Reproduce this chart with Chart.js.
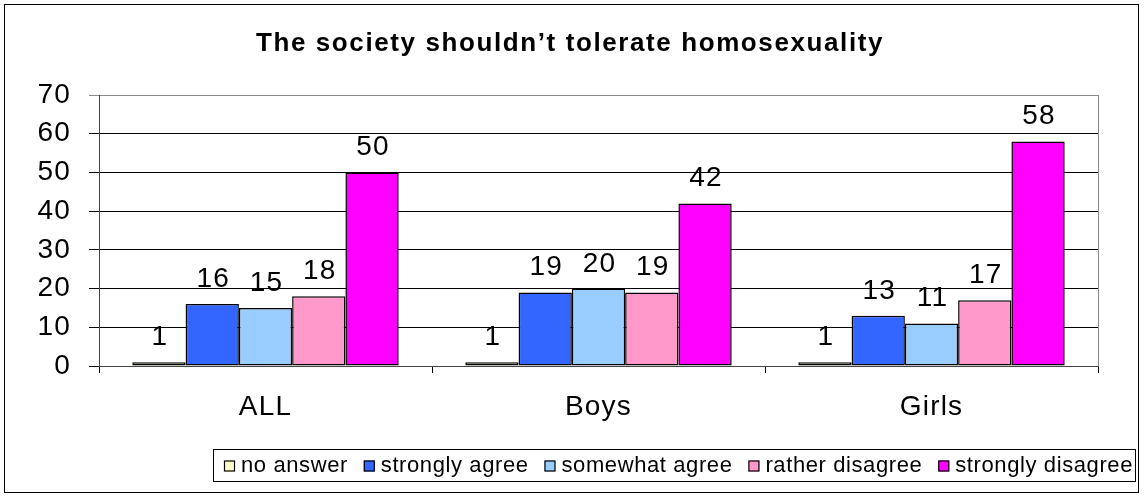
<!DOCTYPE html>
<html>
<head>
<meta charset="utf-8">
<script src="https://cdn.jsdelivr.net/npm/chart.js@4/dist/chart.umd.min.js"></script>
<style>
  html, body { margin: 0; padding: 0; background: #fff; }
</style>
</head>
<body>
<canvas id="c" width="1144" height="499"></canvas>
<script>
const groups = ['ALL', 'Boys', 'Girls'];
const noAnswer = [1, 1, 1];
const stronglyAgree = [16, 19, 13];
const somewhatAgree = [15, 20, 11];
const ratherDisagree = [18, 19, 17];
const stronglyDisagree = [50, 42, 58];
const yTicks = [0, 10, 20, 30, 40, 50, 60, 70];
const titleText = 'The society shouldn\u2019t tolerate homosexuality';

const FONT = 'Arial, "Liberation Sans", sans-serif';

function mkSet(label, data, color) {
  return {
    label: label,
    data: data,
    backgroundColor: color,
    borderColor: '#000',
    borderWidth: 1.5,
    borderSkipped: false,
    categoryPercentage: 0.8,
    barPercentage: 1.0
  };
}

// espacement des lettres (le rendu d'origine est un peu plus large)
const spacing = {
  id: 'spacing',
  beforeUpdate(chart) { chart.ctx.letterSpacing = '1.2px'; },
  beforeDraw(chart) { chart.ctx.letterSpacing = '1.2px'; }
};

// valeurs au-dessus des barres
const valueLabels = {
  id: 'valueLabels',
  afterDatasetsDraw(chart) {
    const ctx = chart.ctx;
    ctx.save();
    ctx.font = '28px ' + FONT;
    ctx.fillStyle = '#000';
    ctx.textAlign = 'center';
    ctx.textBaseline = 'alphabetic';
    chart.data.datasets.forEach((ds, i) => {
      chart.getDatasetMeta(i).data.forEach((bar, j) => {
        ctx.fillText(ds.data[j], bar.x + 1, bar.y - 17);
      });
    });
    ctx.restore();
  }
};

// titre, cadre extérieur, bord du graphique et légende encadrée
const decor = {
  id: 'decor',
  afterDraw(chart) {
    const ctx = chart.ctx;
    const a = chart.chartArea;
    ctx.save();

    // cadre extérieur
    ctx.strokeStyle = '#000';
    ctx.lineWidth = 1;
    ctx.strokeRect(4.5, 4.5, 1134, 488);

    // bord droit du graphique
    ctx.strokeStyle = '#888';
    ctx.beginPath();
    ctx.moveTo(Math.round(a.right) + 0.5, a.top);
    ctx.lineTo(Math.round(a.right) + 0.5, a.bottom);
    ctx.stroke();

    // titre
    ctx.letterSpacing = '1.6px';
    ctx.font = 'bold 26px ' + FONT;
    ctx.fillStyle = '#000';
    ctx.textAlign = 'left';
    ctx.textBaseline = 'middle';
    const tw = ctx.measureText(titleText).width;
    ctx.fillText(titleText, 570 - tw / 2, 44);

    // légende
    const boxL = 213, boxR = 1135, boxT = 449, boxB = 481;
    ctx.strokeStyle = '#000';
    ctx.strokeRect(boxL + 0.5, boxT + 0.5, boxR - boxL, boxB - boxT);
    ctx.letterSpacing = '0.6px';
    ctx.font = '22px ' + FONT;
    const sq = 11, gapSq = 6;
    const items = chart.data.datasets.map(ds => ({
      label: ds.label, color: ds.backgroundColor, w: ctx.measureText(ds.label).width
    }));
    const startX = boxL + 11, endX = boxR - 2;
    let used = 0;
    items.forEach(it => { used += sq + gapSq + it.w; });
    const gapItem = (endX - startX - used) / (items.length - 1);
    let x = startX;
    const cy = (boxT + boxB) / 2 + 1;
    items.forEach(it => {
      ctx.fillStyle = it.color;
      ctx.fillRect(x, cy - sq / 2, sq, sq);
      ctx.strokeStyle = '#000';
      ctx.lineWidth = 1.2;
      ctx.strokeRect(x + 0.5, cy - sq / 2 + 0.5, sq - 1, sq - 1);
      ctx.fillStyle = '#000';
      ctx.fillText(it.label, x + sq + gapSq, cy);
      x += sq + gapSq + it.w + gapItem;
    });
    ctx.restore();
  }
};

new Chart(document.getElementById('c'), {
  type: 'bar',
  data: {
    labels: groups,
    datasets: [
      mkSet('no answer', noAnswer, '#FFFFCC'),
      mkSet('strongly agree', stronglyAgree, '#3366FF'),
      mkSet('somewhat agree', somewhatAgree, '#99CCFF'),
      mkSet('rather disagree', ratherDisagree, '#FF99CC'),
      mkSet('strongly disagree', stronglyDisagree, '#FF00FF')
    ]
  },
  options: {
    responsive: false,
    animation: false,
    layout: { padding: { left: 0, right: 46, top: 95, bottom: 0 } },
    plugins: {
      title: { display: false },
      legend: { display: false },
      tooltip: { enabled: false }
    },
    scales: {
      x: {
        afterFit(scale) { scale.height = 499 - 366; },
        grid: { drawOnChartArea: false, drawTicks: true, tickLength: 7, color: '#000', offset: true },
        border: { color: '#444', width: 1 },
        ticks: { color: '#000', font: { family: FONT, size: 28 }, padding: 17 }
      },
      y: {
        min: 0,
        max: 70,
        afterFit(scale) { scale.width = 99; },
        afterBuildTicks(scale) { scale.ticks = yTicks.map(v => ({ value: v })); },
        grid: {
          color: ctx => (ctx.tick && ctx.tick.value === 70 ? '#888' : '#000'),
          lineWidth: 1,
          tickLength: 10
        },
        border: { color: '#444', width: 1 },
        ticks: { color: '#000', font: { family: FONT, size: 28 }, padding: 18 }
      }
    }
  },
  plugins: [spacing, valueLabels, decor]
});
</script>
</body>
</html>
